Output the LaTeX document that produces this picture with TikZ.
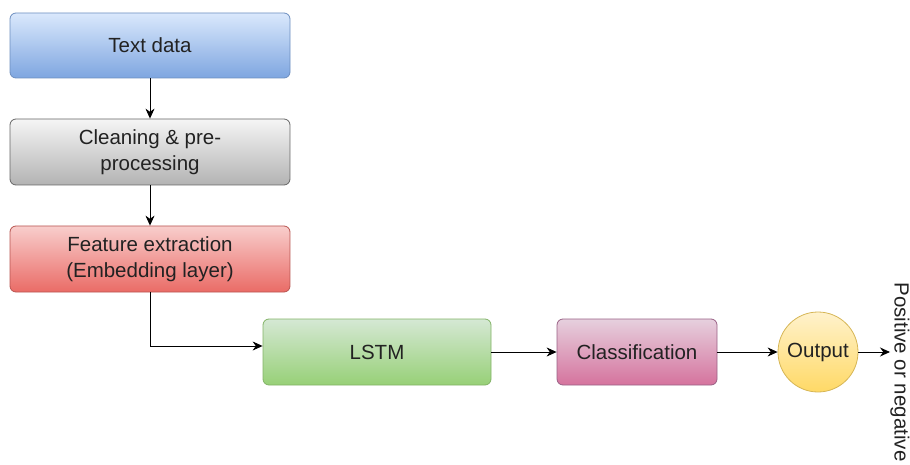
\documentclass[tikz,border=0pt]{standalone}
\usepackage{fontspec}
\setmainfont{Liberation Sans}
\usetikzlibrary{arrows.meta}
\definecolor{bTop}{HTML}{DAE8FC}\definecolor{bBot}{HTML}{7EA6E0}\definecolor{bStr}{HTML}{6C8EBF}
\definecolor{gTop}{HTML}{F5F5F5}\definecolor{gBot}{HTML}{B3B3B3}\definecolor{gStr}{HTML}{666666}
\definecolor{rTop}{HTML}{F8CECC}\definecolor{rBot}{HTML}{EA6B66}\definecolor{rStr}{HTML}{B85450}
\definecolor{nTop}{HTML}{D5E8D4}\definecolor{nBot}{HTML}{97D077}\definecolor{nStr}{HTML}{82B366}
\definecolor{pTop}{HTML}{E6D0DE}\definecolor{pBot}{HTML}{D5739D}\definecolor{pStr}{HTML}{996185}
\definecolor{yTop}{HTML}{FFF2CC}\definecolor{yBot}{HTML}{FFD966}\definecolor{yStr}{HTML}{D6B656}
\definecolor{txt}{HTML}{222222}
\tikzset{
  lblfont/.style={font=\fontsize{20.5}{25.5}\selectfont, text=txt},
  box/.style={rectangle, rounded corners=6pt, line width=0.8pt, align=center,
    lblfont, inner sep=0pt},
  blueb/.style={box, draw=bStr, top color=bTop, bottom color=bBot},
  grayb/.style={box, draw=gStr, top color=gTop, bottom color=gBot},
  redb/.style={box, draw=rStr, top color=rTop, bottom color=rBot},
  greenb/.style={box, draw=nStr, top color=nTop, bottom color=nBot},
  pinkb/.style={box, draw=pStr, top color=pTop, bottom color=pBot},
  circb/.style={circle, line width=0.8pt, draw=yStr, top color=yTop, bottom color=yBot,
    lblfont, inner sep=0pt, minimum size=80pt},
  conn/.style={-{Stealth[length=10pt,width=9pt]}, line width=0.9pt, black},
}
\begin{document}
\begin{tikzpicture}[x=1pt,y=-1pt]
\useasboundingbox (0,0) rectangle (910,465);
\node[blueb, minimum width=280pt, minimum height=65pt] (text) at (150,45.5) {Text data};
\node[grayb, minimum width=280pt, minimum height=66pt] (clean) at (150,152) {Cleaning \& pre-\\processing};
\node[redb, minimum width=280pt, minimum height=66pt] (feat) at (150,259) {Feature extraction\\(Embedding layer)};
\node[greenb, minimum width=228pt, minimum height=66pt] (lstm) at (377,352) {LSTM};
\node[pinkb, minimum width=160pt, minimum height=66pt] (cls) at (637,352) {Classification};
\node[circb] (out) at (818,352) {Output};
\coordinate (end) at (890,352);
\node[rotate=-90, lblfont, inner sep=0pt] (lab) at (900,372) {Positive or negative};
\draw[conn] (text) -- (clean);
\draw[conn] (clean) -- (feat);
\draw[conn] (feat.south) |- ([yshift=6pt]lstm.west);
\draw[conn] (lstm) -- (cls);
\draw[conn] (cls) -- (out);
\draw[conn] (out) -- (end);
\end{tikzpicture}
\end{document}
